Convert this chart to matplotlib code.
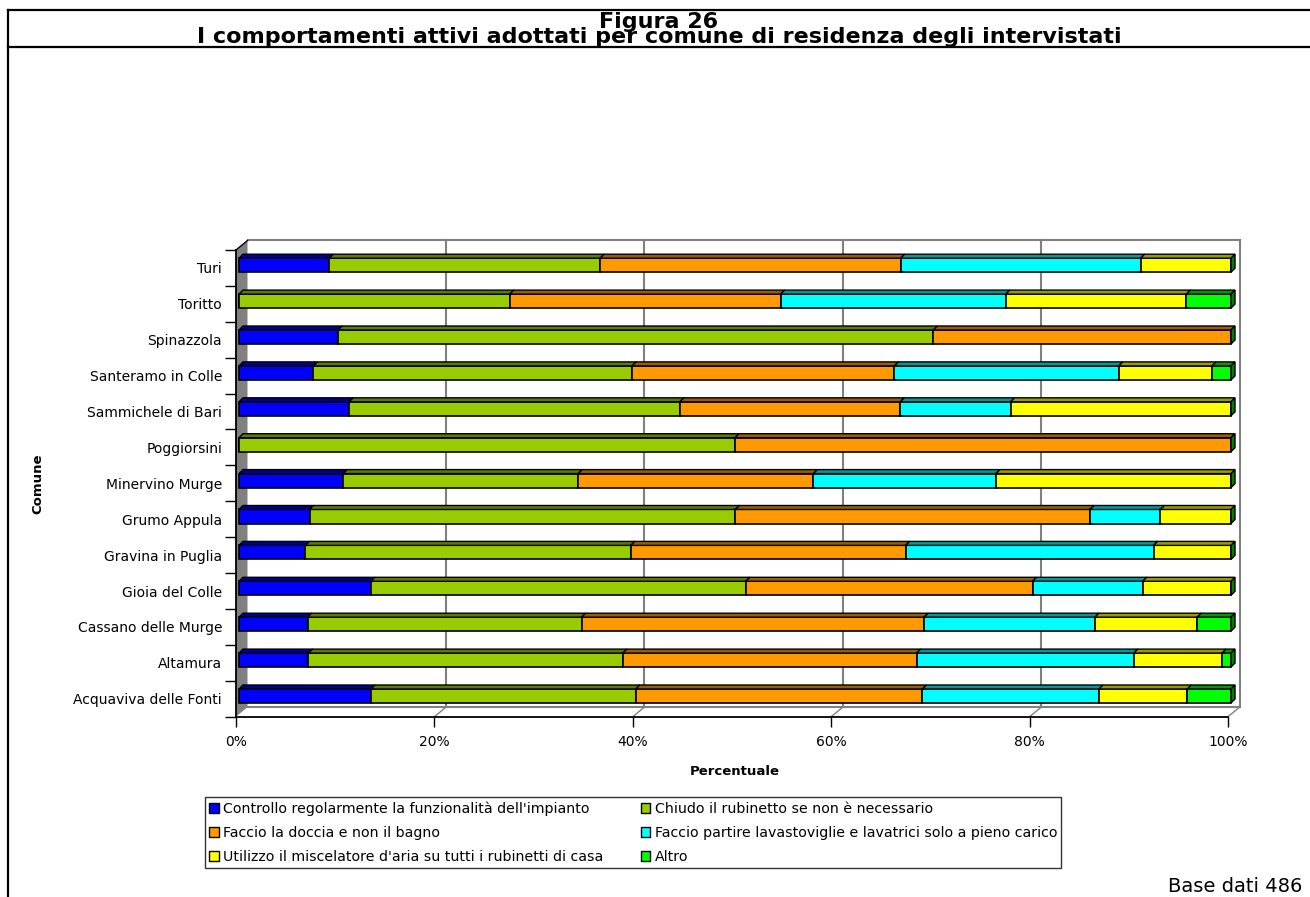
import numpy as np
import matplotlib.pyplot as plt
from matplotlib.patches import Patch, Polygon
from matplotlib.lines import Line2D
from matplotlib.colors import to_rgb

comuni = ["Acquaviva delle Fonti", "Altamura", "Cassano delle Murge", "Gioia del Colle",
          "Gravina in Puglia", "Grumo Appula", "Minervino Murge", "Poggiorsini",
          "Sammichele di Bari", "Santeramo in Colle", "Spinazzola", "Toritto", "Turi"]

controllo = [13.3, 7.0, 6.9, 13.3, 6.7, 7.1, 10.5, 0.0, 11.1, 7.5, 10.0, 0.0, 9.1]
chiudo = [26.7, 31.7, 27.6, 37.8, 32.8, 42.9, 23.7, 50.0, 33.3, 32.1, 60.0, 27.3, 27.3]
doccia = [28.9, 29.6, 34.5, 28.9, 27.7, 35.7, 23.7, 50.0, 22.2, 26.4, 30.0, 27.3, 30.3]
lavastoviglie = [17.8, 21.9, 17.2, 11.1, 25.0, 7.1, 18.4, 0.0, 11.1, 22.6, 0.0, 22.7, 24.2]
miscelatore = [8.9, 8.9, 10.3, 8.9, 7.8, 7.1, 23.7, 0.0, 22.2, 9.4, 0.0, 18.2, 9.1]
altro = [4.4, 0.9, 3.4, 0.0, 0.0, 0.0, 0.0, 0.0, 0.0, 1.9, 0.0, 4.5, 0.0]

voci = ["Controllo regolarmente la funzionalità dell'impianto",
        "Chiudo il rubinetto se non è necessario",
        "Faccio la doccia e non il bagno",
        "Faccio partire lavastoviglie e lavatrici solo a pieno carico",
        "Utilizzo il miscelatore d'aria su tutti i rubinetti di casa",
        "Altro"]
colori = ['#0000FF', '#99CC00', '#FF9900', '#00FFFF', '#FFFF00', '#00FF00']
x_ticks = [0, 20, 40, 60, 80, 100]
x_labels = ['0%', '20%', '40%', '60%', '80%', '100%']

series = np.array([controllo, chiudo, doccia, lavastoviglie, miscelatore, altro])
series = series / series.sum(axis=0) * 100  # 100% stacked

W, H = 1310, 897
fig = plt.figure(figsize=(W / 100, H / 100), dpi=100)
plt.rcParams['font.family'] = 'DejaVu Sans'

# axes placed in pixel terms
ax_l, ax_r, ax_b, ax_t = 236, 1228, 716.7, 250
ax = fig.add_axes([ax_l / W, 1 - ax_b / H, (ax_r - ax_l) / W, (ax_b - ax_t) / H])
n = len(comuni)
ax.set_xlim(0, 100)
ax.set_ylim(-0.5, n - 0.5)
PX = 100 / (ax_r - ax_l)          # data units per pixel, x
PY = n / (ax_b - ax_t)            # data units per pixel, y

# 3D depth of walls and bars
WX, WY = 11.5 * PX, 9.5 * PY
BX, BY = 3 * PX, 2.75 * PY
DX, DY = 4 * PX, 4 * PY
h = 0.39

y0, y1 = -0.5, n - 0.5
grey = '#808080'
# left wall
ax.add_patch(Polygon([(0, y0), (WX, y0 + WY), (WX, y1 + WY), (0, y1)],
                     closed=True, facecolor=grey, edgecolor='none', clip_on=False, zorder=1))
# back wall and floor
ax.plot([WX, 100 + WX], [y1 + WY, y1 + WY], color=grey, lw=1.5, clip_on=False, zorder=1)
ax.plot([WX, 100 + WX], [y0 + WY, y0 + WY], color=grey, lw=1.5, clip_on=False, zorder=1)
for xt in x_ticks[1:]:
    ax.plot([xt + WX, xt + WX], [y0 + WY, y1 + WY], color=grey, lw=1.5, clip_on=False, zorder=1)
    ax.plot([xt, xt + WX], [y0, y0 + WY], color=grey, lw=1, clip_on=False, zorder=1)
ax.plot([0, WX], [y1, y1 + WY], color='black', lw=1, clip_on=False, zorder=2)

ypos = np.arange(n)
left = np.zeros(n)
for k in range(len(voci)):
    vals = series[k]
    top_col = tuple(c * 0.6 for c in to_rgb(colori[k]))
    ax.barh(ypos + BY, vals, left=left + BX, height=h, color=colori[k],
            edgecolor='black', linewidth=1.2, zorder=3, clip_on=False)
    for i in range(n):
        if vals[i] <= 0:
            continue
        xa, xb = left[i] + BX, left[i] + vals[i] + BX
        yt = i + BY + h / 2
        ax.add_patch(Polygon([(xa, yt), (xb, yt), (xb + DX, yt + DY), (xa + DX, yt + DY)],
                             closed=True, facecolor=top_col, edgecolor='black',
                             linewidth=1, zorder=3, clip_on=False))
    left += vals

# end caps
cap = tuple(c * 0.5 for c in to_rgb(colori[-1]))
for i in range(n):
    xe = left[i] + BX
    yb, yt = i + BY - h / 2, i + BY + h / 2
    ax.add_patch(Polygon([(xe, yb), (xe, yt), (xe + DX, yt + DY), (xe + DX, yb + DY)],
                         closed=True, facecolor=cap, edgecolor='black',
                         linewidth=1, zorder=3, clip_on=False))

for s in ['top', 'right']:
    ax.spines[s].set_visible(False)
for s in ['left', 'bottom']:
    ax.spines[s].set_color('black')
    ax.spines[s].set_linewidth(1.3)
ax.set_facecolor('none')

ax.set_xticks(x_ticks)
ax.set_xticklabels(x_labels, fontsize=10)
ax.tick_params(axis='x', length=7, width=1, pad=6)
ax.set_yticks(ypos)
ax.set_yticklabels(comuni, fontsize=10)
ax.tick_params(axis='y', length=0, pad=10)
ax.set_yticks(np.arange(n + 1) - 0.5, minor=True)
ax.tick_params(axis='y', which='minor', length=8, width=1)

ax.set_xlabel('Percentuale', fontsize=9.5, fontweight='bold')
ax.xaxis.set_label_coords((735 - ax_l) / (ax_r - ax_l), (ax_b - 765) / (ax_b - ax_t))
ax.set_ylabel('Comune', fontsize=9.5, fontweight='bold')
ax.yaxis.set_label_coords((44 - ax_l) / (ax_r - ax_l), 0.5)

# legend, filled by column
handles = [Patch(facecolor=c, edgecolor='black', linewidth=1) for c in colori]
order = [0, 2, 4, 1, 3, 5]
leg = fig.legend([handles[i] for i in order], [voci[i] for i in order], ncol=2,
                 loc='upper left', bbox_to_anchor=(205 / W, 1 - 797 / H),
                 fontsize=10.2, frameon=True, fancybox=False, edgecolor='black',
                 handlelength=0.7, handleheight=0.7, handletextpad=0.3,
                 columnspacing=2.6, labelspacing=0.72, borderpad=0.3, borderaxespad=0)
leg.get_frame().set_linewidth(1)

# titles and frame
fig.text(659 / W, 1 - 29.5 / H,
         'Figura 26\nI comportamenti attivi adottati per comune di residenza degli intervistati',
         ha='center', va='center', multialignment='center', linespacing=0.72,
         fontsize=16, fontweight='bold')
fig.text(1302 / W, 1 - 896 / H, 'Base dati 486', ha='right', va='bottom', fontsize=14)

for xs, ys in [([8, W], [10, 10]), ([8, W], [47, 47]), ([8, 8], [10, H])]:
    fig.add_artist(Line2D([x / W for x in xs], [1 - y / H for y in ys],
                          color='black', lw=1.6))

fig.savefig('out.png', dpi=100)
